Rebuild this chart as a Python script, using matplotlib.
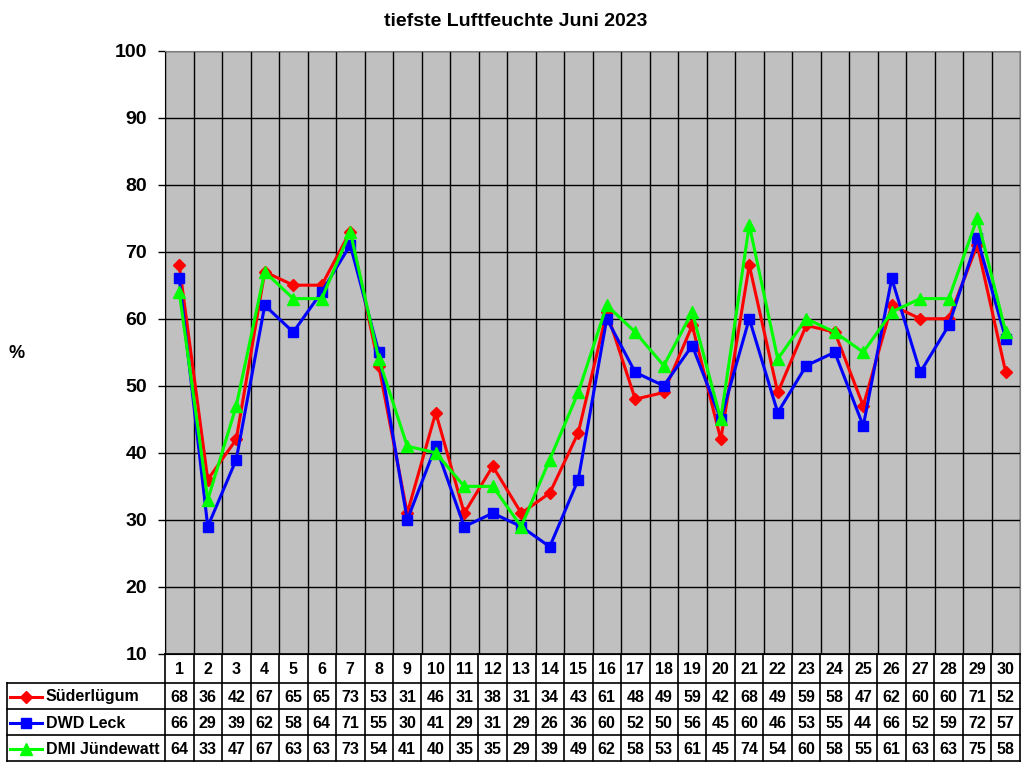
import matplotlib.pyplot as plt
import numpy as np

plt.rcParams['font.family'] = ['Liberation Sans', 'DejaVu Sans']

days = list(range(1, 31))
sueder = [68, 36, 42, 67, 65, 65, 73, 53, 31, 46, 31, 38, 31, 34, 43,
          61, 48, 49, 59, 42, 68, 49, 59, 58, 47, 62, 60, 60, 71, 52]
leck = [66, 29, 39, 62, 58, 64, 71, 55, 30, 41, 29, 31, 29, 26, 36,
        60, 52, 50, 56, 45, 60, 46, 53, 55, 44, 66, 52, 59, 72, 57]
juende = [64, 33, 47, 67, 63, 63, 73, 54, 41, 40, 35, 35, 29, 39, 49,
          62, 58, 53, 61, 45, 74, 54, 60, 58, 55, 61, 63, 63, 75, 58]
names = ["Süderlügum", "DWD Leck", "DMI Jündewatt"]
colors = ["#FF0000", "#0000FF", "#00FF00"]
markers = ["D", "s", "^"]
msizes = [6, 7, 8.5]
series = [sueder, leck, juende]

W, H = 1024, 768
fig = plt.figure(figsize=(W / 100, H / 100), dpi=100)

# plot area in pixels
px_l, px_r, px_t, px_b = 165, 1020, 50.5, 654
ax = fig.add_axes([px_l / W, 1 - px_b / H, (px_r - px_l) / W, (px_b - px_t) / H])
ax.set_facecolor("#C0C0C0")
ax.set_xlim(0.5, 30.5)
ax.set_ylim(10, 100)
ax.set_yticks(range(10, 101, 10))
ax.set_xticks(np.arange(0.5, 31, 1))
ax.tick_params(axis='x', length=0, labelbottom=False)
ax.tick_params(axis='y', direction='out', length=5, width=1, pad=8, labelsize=14)
for lab in ax.get_yticklabels():
    lab.set_fontweight('bold')
ax.grid(True, color='black', linewidth=1)
ax.set_axisbelow(True)
for s in ['top', 'right']:
    ax.spines[s].set_color('#808080')
for s in ['left', 'bottom']:
    ax.spines[s].set_color('black')

for vals, c, m, ms, n in zip(series, colors, markers, msizes, names):
    ax.plot(days, vals, color=c, linewidth=2.2, marker=m, markersize=ms,
            markeredgecolor=c, label=n)

fig.text(516 / W, 1 - 22 / H, "tiefste Luftfeuchte Juni 2023", ha='center', va='center',
         fontsize=14, fontweight='bold')
fig.text(17 / W, 1 - 353 / H, "%", ha='center', va='center', fontsize=13, fontweight='bold')

# data table below the plot
tb_l, tb_r, tb_t, tb_b = 7, 1020, 654, 761
tax = fig.add_axes([tb_l / W, 1 - tb_b / H, (tb_r - tb_l) / W, (tb_b - tb_t) / H])
per_day = (px_r - px_l) / 30
x_left = 0.5 - (px_l - tb_l) / per_day
tax.set_xlim(x_left, 30.5)
tax.set_ylim(tb_b - tb_t, 0)
tax.axis('off')

rows_y = [0, 29, 55, 81, 107]
lw = 1.2
# horizontal lines
tax.plot([0.5, 30.5], [rows_y[0], rows_y[0]], color='black', lw=lw, clip_on=False)
for yy in rows_y[1:]:
    tax.plot([x_left, 30.5], [yy, yy], color='black', lw=lw, clip_on=False)
# vertical lines
for xx in np.arange(0.5, 31, 1):
    tax.plot([xx, xx], [rows_y[0], rows_y[-1]], color='black', lw=lw, clip_on=False)
tax.plot([x_left, x_left], [rows_y[1], rows_y[-1]], color='black', lw=lw, clip_on=False)

# header
for d in days:
    tax.text(d, (rows_y[0] + rows_y[1]) / 2 + 1, str(d), ha='center', va='center',
             fontsize=11.5, fontweight='bold')
# rows
for i, (vals, c, m, ms, n) in enumerate(zip(series, colors, markers, msizes, names)):
    yc = (rows_y[i + 1] + rows_y[i + 2]) / 2 + 1
    x0 = x_left + 3 / per_day
    x1 = x_left + 35 / per_day
    tax.plot([x0, x1], [yc, yc], color=c, lw=2.2, clip_on=False)
    tax.plot([(x0 + x1) / 2], [yc], marker=m, color=c, markersize=ms, clip_on=False)
    tax.text(x_left + 39 / per_day, yc, n, ha='left', va='center', fontsize=11.5,
             fontweight='bold')
    for d, v in zip(days, vals):
        tax.text(d, yc, str(v), ha='center', va='center', fontsize=11.5, fontweight='bold')

fig.savefig("out.png", dpi=100)
